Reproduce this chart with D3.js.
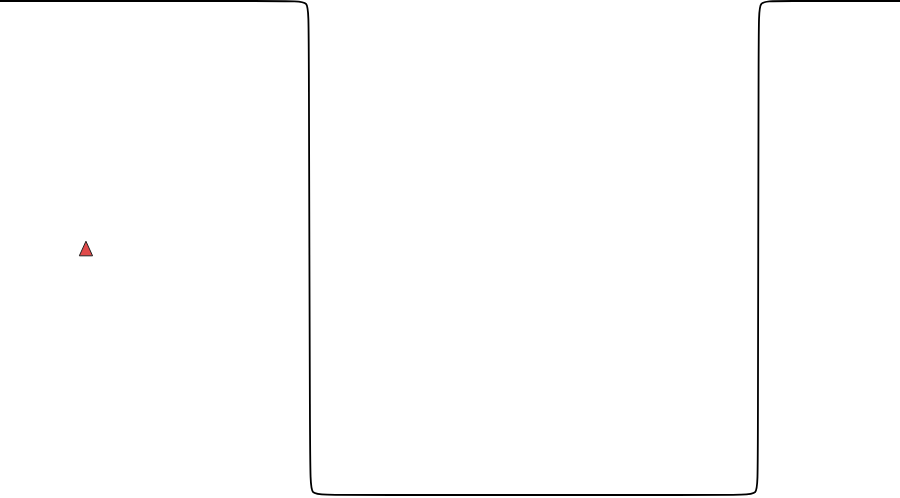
<!DOCTYPE html>
<html>
<head>
<meta charset="utf-8">
<script src="https://cdn.jsdelivr.net/npm/d3@7"></script>
<style>
  html, body { margin: 0; padding: 0; background: #fff; }
  svg { display: block; }
</style>
</head>
<body>
<div id="chart"></div>
<script>
// level signal (time in %, level 0..1)
const levelTime  = [0, 32.5, 34.3, 34.3, 34.45, 34.5, 36.3, 82.4, 84.2, 84.2, 84.3, 84.3, 86.1, 100];
const levelValue = [1, 1,    1,    0.965, 0.035, 0,   0,    0,    0,    0.035, 0.965, 1,   1,    1];

// single marker
const markerTime  = [9.55];
const markerValue = [0.494];

const width = 900, height = 498;
const margin = {top: 1, right: 0, bottom: 3, left: 0};

let svg = d3.select("#chart").append("svg")
    .attr("width", width)
    .attr("height", height);

let x = d3.scaleLinear().domain([0, 100]).range([margin.left, width - margin.right]);
let y = d3.scaleLinear().domain([0, 1]).range([height - margin.bottom, margin.top]);

function drawLevelLine(){
    let points = levelTime.map((t, i) => ({t: t, v: levelValue[i]}));
    let line = d3.line()
        .x(d => x(d.t))
        .y(d => y(d.v))
        .curve(d3.curveBasis);

    svg.append("path")
        .datum(points)
        .attr("fill", "none")
        .attr("stroke", "#000")
        .attr("stroke-width", 1.8)
        .attr("d", line);
}

// isosceles triangle a bit taller than wide, centred on its centroid
const tallTriangle = {
    draw(context, size){
        let w = Math.sqrt(size) * 1.5;
        let h = w * 1.1;
        context.moveTo(0, -h * 2 / 3);
        context.lineTo(w / 2, h / 3);
        context.lineTo(-w / 2, h / 3);
        context.closePath();
    }
};

function drawMarkers(){
    let points = markerTime.map((t, i) => ({t: t, v: markerValue[i]}));
    svg.append("g").selectAll("path")
        .data(points)
        .join("path")
        .attr("transform", d => "translate(" + x(d.t) + "," + y(d.v) + ")")
        .attr("d", d3.symbol().type(tallTriangle).size(78))
        .attr("fill", "#e04a4a")
        .attr("stroke", "#222")
        .attr("stroke-width", 1);
}

drawLevelLine();
drawMarkers();
</script>
</body>
</html>
